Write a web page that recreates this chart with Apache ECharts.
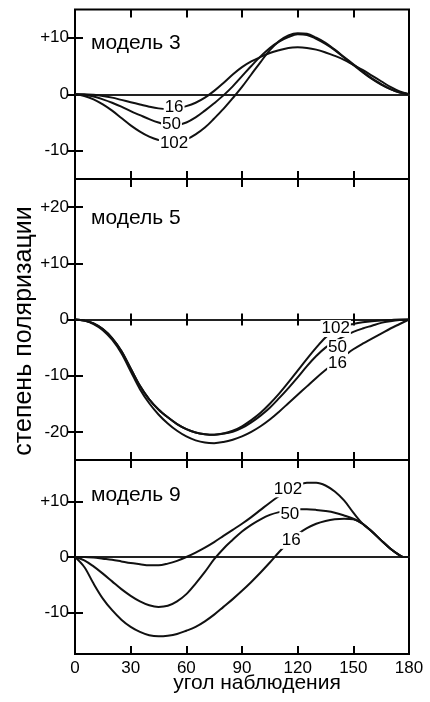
<!DOCTYPE html>
<html>
<head>
<meta charset="utf-8">
<script src="https://cdn.jsdelivr.net/npm/echarts@6/dist/echarts.min.js"></script>
<style>
  html, body { margin: 0; padding: 0; background: #fff; }
  #chart { width: 430px; height: 702px; }
</style>
</head>
<body>
<div id="chart"></div>
<script>
// Observation angle, degrees
const angleTicks = [0, 30, 60, 90, 120, 150, 180];
const anglesA = [0,5,10,15,20,25,30,35,40,45,50,55,60,65,70,75,80,85,90,95,100,105,110,115,120,125,130,135,140,145,150,155,160,165,170,175,180];
const anglesC = [0,5,10,15,20,25,30,35,40,45,50,55,60,65,70,75,80,85,90,95,100,105,110,115,120,125,130,135,140,145,150,155,160,165,170,175,177,180];

// модель 3 — degree of polarization, %
const m3_16  = [0,0,-0.1,-0.3,-0.6,-1.0,-1.4,-1.8,-2.2,-2.5,-2.6,-2.5,-2.1,-1.5,-0.6,0.6,2.0,3.5,4.8,5.8,6.6,7.3,7.8,8.2,8.3,8.2,7.9,7.4,6.8,6.1,5.2,4.3,3.3,2.3,1.3,0.5,0];
const m3_50  = [0,-0.1,-0.4,-0.9,-1.5,-2.2,-3.0,-3.7,-4.4,-5.0,-5.4,-5.4,-5.0,-4.1,-2.9,-1.6,-0.2,1.4,3.2,5.0,6.7,8.2,9.3,10.1,10.6,10.5,9.8,8.9,7.8,6.5,5.2,3.9,2.7,1.7,0.9,0.3,0];
const m3_102 = [0,-0.3,-0.9,-1.8,-2.9,-4.2,-5.5,-6.6,-7.5,-8.1,-8.4,-8.4,-8.0,-7.1,-5.9,-4.3,-2.6,-0.7,1.3,3.5,5.7,7.8,9.4,10.4,10.8,10.7,10.0,9.1,7.9,6.6,5.3,4.0,2.8,1.8,0.9,0.3,0];

// модель 5
const m5_16  = [0,-0.2,-0.8,-1.9,-3.6,-6.0,-9.2,-12.4,-14.9,-16.9,-18.5,-19.8,-20.8,-21.5,-21.9,-22.0,-21.8,-21.4,-20.8,-20.0,-19.0,-17.8,-16.4,-14.9,-13.4,-11.9,-10.4,-9.0,-7.7,-6.5,-5.3,-4.3,-3.4,-2.5,-1.6,-0.8,0];
const m5_50  = [0,-0.2,-0.7,-1.7,-3.3,-5.6,-8.7,-11.8,-14.2,-16.0,-17.4,-18.6,-19.5,-20.1,-20.4,-20.5,-20.3,-20.0,-19.3,-18.3,-17.1,-15.7,-14.0,-12.2,-10.3,-8.3,-6.5,-5.0,-3.9,-3.0,-2.2,-1.6,-1.1,-0.6,-0.3,-0.1,0];
const m5_102 = [0,-0.2,-0.7,-1.7,-3.3,-5.6,-8.7,-11.8,-14.2,-16.0,-17.4,-18.6,-19.5,-20.1,-20.4,-20.5,-20.3,-19.8,-19.0,-17.9,-16.6,-15.0,-13.2,-11.2,-9.1,-7.0,-5.0,-3.2,-1.9,-1.2,-0.8,-0.5,-0.3,-0.2,-0.1,0,0];

// модель 9
const m9_16  = [0,-1.8,-4.8,-7.5,-9.6,-11.3,-12.6,-13.5,-14.1,-14.3,-14.2,-13.9,-13.3,-12.6,-11.6,-10.4,-9.0,-7.6,-6.1,-4.5,-2.8,-1.0,0.9,2.6,4.1,5.2,6.0,6.5,6.8,6.9,6.8,6.0,4.6,3.0,1.5,0.3,0,0];
const m9_50  = [0,-0.6,-1.7,-3.0,-4.4,-5.8,-7.0,-8.0,-8.7,-9.0,-8.8,-8.0,-6.7,-4.8,-2.7,-0.4,1.5,3.1,4.6,5.8,6.8,7.6,8.1,8.4,8.6,8.6,8.5,8.3,8.0,7.5,6.9,6.0,4.6,3.0,1.5,0.3,0,0];
const m9_102 = [0,0,-0.1,-0.3,-0.5,-0.8,-1.1,-1.3,-1.5,-1.5,-1.2,-0.7,0,0.8,1.7,2.7,3.8,4.9,6.0,7.2,8.5,9.8,11.0,12.1,12.9,13.4,13.4,12.9,11.8,10.2,8.0,6.0,4.6,3.0,1.5,0.3,0,0];

// Tick labels on the polarization axes
const yTicks3 = [-10, 0, 10];
const yTicks5 = [-20, -10, 0, 10, 20];
const yTicks9 = [-10, 0, 10];

const INK = '#000';
const FONT = '"Liberation Sans", Arial, Helvetica, sans-serif';

const panels = [
  { title: 'модель 3', top: 9.5, height: 169.5, range: 15, ticks: yTicks3, angles: anglesA,
    curves: [m3_16, m3_50, m3_102], zeroTicks: false,
    tags: [[53.4, -2.3, '16'], [52, -5.3, '50'], [53.4, -8.6, '102']] },
  { title: 'модель 5', top: 179, height: 281, range: 25, ticks: yTicks5, angles: anglesA,
    curves: [m5_16, m5_50, m5_102], zeroTicks: true,
    tags: [[141.5, -7.8, '16'], [141.5, -5.0, '50'], [140.5, -1.6, '102']] },
  { title: 'модель 9', top: 460, height: 194, range: 17.5, ticks: yTicks9, angles: anglesC,
    curves: [m9_16, m9_50, m9_102], zeroTicks: false,
    tags: [[116.5, 3.0, '16'], [115.8, 7.7, '50'], [114.8, 12.3, '102']] }
];

const grid = [], xAxis = [], yAxis = [], series = [], graphic = [];
const tickStyle = { color: INK, width: 2 };
const fmtY = v => (v > 0 ? '+' + v : String(v));

panels.forEach((p, i) => {
  grid.push({ left: 75, width: 334, top: p.top, height: p.height, show: true,
    borderColor: INK, borderWidth: 2, backgroundColor: 'transparent' });

  const last = i === panels.length - 1;
  const xBase = xAxis.length;
  // bottom edge
  xAxis.push({ gridIndex: i, type: 'value', min: 0, max: 180, interval: 30, position: 'bottom',
    axisLine: { show: false, onZero: false },
    axisTick: { show: true, inside: true, length: 8, lineStyle: tickStyle },
    axisLabel: { show: last, margin: 6, fontSize: 17, color: INK, fontFamily: FONT },
    splitLine: { show: false } });
  // top edge
  xAxis.push({ gridIndex: i, type: 'value', min: 0, max: 180, interval: 30, position: 'top',
    axisLine: { show: false, onZero: false },
    axisTick: { show: true, inside: true, length: 8, lineStyle: tickStyle },
    axisLabel: { show: false }, splitLine: { show: false } });
  // zero line
  const yBase = yAxis.length;
  xAxis.push({ gridIndex: i, type: 'value', min: 0, max: 180, interval: 30, position: 'bottom',
    axisLine: { show: true, onZero: true, onZeroAxisIndex: yBase, lineStyle: { color: '#222', width: 2 } },
    axisTick: { show: p.zeroTicks, inside: false, length: 6, lineStyle: tickStyle },
    axisLabel: { show: false }, splitLine: { show: false } });
  if (p.zeroTicks) {
    xAxis.push({ gridIndex: i, type: 'value', min: 0, max: 180, interval: 30, position: 'bottom',
      axisLine: { show: false, onZero: true, onZeroAxisIndex: yBase },
      axisTick: { show: true, inside: true, length: 6, lineStyle: tickStyle },
      axisLabel: { show: false }, splitLine: { show: false } });
  }

  yAxis.push({ gridIndex: i, type: 'value', min: -p.range, max: p.range, position: 'left',
    axisLine: { show: false },
    axisTick: { show: true, inside: true, length: 8, lineStyle: tickStyle, customValues: p.ticks },
    axisLabel: { show: true, margin: 6, fontSize: 17, color: INK, fontFamily: FONT,
      customValues: p.ticks, formatter: fmtY },
    splitLine: { show: false } });
  yAxis.push({ gridIndex: i, type: 'value', min: -p.range, max: p.range, position: 'right',
    axisLine: { show: false },
    axisTick: { show: true, inside: true, length: 8, lineStyle: tickStyle, customValues: p.ticks },
    axisLabel: { show: false }, splitLine: { show: false } });

  p.curves.forEach(vals => {
    series.push({ type: 'line', xAxisIndex: xBase, yAxisIndex: yBase,
      data: p.angles.map((a, k) => [a, vals[k]]),
      smooth: 0.35, symbol: 'none', silent: true, z: 3,
      lineStyle: { color: '#111', width: 2 } });
  });

  // curve tags (size parameter) sit on a white box that breaks the line
  series.push({ type: 'scatter', xAxisIndex: xBase, yAxisIndex: yBase, z: 10,
    symbolSize: 0, silent: true, data: p.tags,
    itemStyle: { opacity: 1 },
    label: { show: true, position: 'inside', formatter: d => d.value[2], opacity: 1,
      fontSize: 17, color: INK, fontFamily: FONT, backgroundColor: '#fff', padding: [0, 1] } });
});

graphic.push(
  { type: 'text', left: 91, top: 33, style: { text: 'модель 3', font: '21px ' + FONT, fill: INK } },
  { type: 'text', left: 91, top: 208, style: { text: 'модель 5', font: '21px ' + FONT, fill: INK } },
  { type: 'text', left: 91, top: 485, style: { text: 'модель 9', font: '21px ' + FONT, fill: INK } },
  { type: 'text', x: 24, y: 331, rotation: Math.PI / 2,
    style: { text: 'степень поляризации', font: '25px ' + FONT, fill: INK, align: 'center', verticalAlign: 'middle' } },
  { type: 'text', x: 257, y: 683,
    style: { text: 'угол наблюдения', font: '21px ' + FONT, fill: INK, align: 'center', verticalAlign: 'middle' } }
);

const chart = echarts.init(document.getElementById('chart'), null, { renderer: 'canvas' });
chart.setOption({ animation: false, backgroundColor: '#fff', grid, xAxis, yAxis, series, graphic });
</script>
</body>
</html>
